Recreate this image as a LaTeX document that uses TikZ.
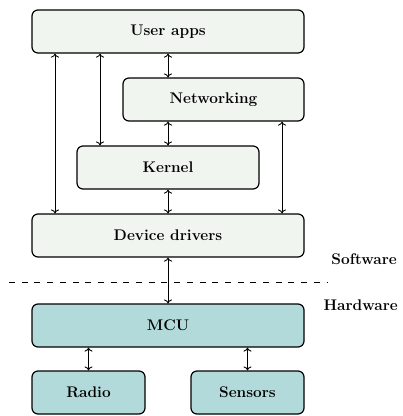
\documentclass[tikz,border=0pt]{standalone}
\usetikzlibrary{arrows.meta}
\definecolor{swfill}{RGB}{240,245,240}
\definecolor{hwfill}{RGB}{179,218,218}
\begin{document}
\begin{tikzpicture}[x=1pt,y=-1pt,
  every node/.style={font=\fontsize{15.4}{18}\selectfont\bfseries},
  layer/.style={draw, line width=1.2pt, rounded corners=6pt, minimum height=43pt, inner sep=0pt},
  sw/.style={layer, fill=swfill},
  hw/.style={layer, fill=hwfill},
  link/.style={line width=0.9pt, {To[length=4pt,width=8pt]}-{To[length=4pt,width=8pt]}}]
  \useasboundingbox (0,0) rectangle (403,416);

  % software stack
  \node[sw, minimum width=272pt] (apps) at (168,31.5) {User apps};
  \node[sw, minimum width=181pt] (net) at (213.5,99.5) {Networking};
  \node[sw, minimum width=182pt] (kern) at (168,167.5) {Kernel};
  \node[sw, minimum width=272pt] (drv) at (168,235.5) {Device drivers};

  % hardware
  \node[hw, minimum width=272pt] (mcu) at (168,325.5) {MCU};
  \node[hw, minimum width=113pt] (radio) at (88.5,392.5) {Radio};
  \node[hw, minimum width=113pt] (sens) at (247.5,392.5) {Sensors};

  % boundary between software and hardware
  \coordinate (cutL) at (9,282);
  \coordinate (cutR) at (327,282);
  \draw[line width=0.8pt, dash pattern=on 6pt off 6.7pt] (cutL) -- (cutR);
  \node[anchor=east, inner sep=0pt] (swlabel) at (397,259) {Software};
  \node[anchor=east, inner sep=0pt] (hwlabel) at (398,305) {Hardware};

  % interfaces
  \draw[link] ([xshift=-113pt]apps.south) -- ([xshift=-113pt]drv.north);
  \draw[link] ([xshift=-68pt]apps.south) -- ([xshift=-68pt]kern.north);
  \draw[link] (apps.south) -- (apps.south |- net.north);
  \draw[link] (net.south -| kern.north) -- (kern.north);
  \draw[link] ([xshift=114pt]drv.north |- net.south) -- ([xshift=114pt]drv.north);
  \draw[link] (kern.south) -- (drv.north);
  \draw[link] (drv.south) -- (mcu.north);
  \draw[link] (mcu.south -| radio.north) -- (radio.north);
  \draw[link] (mcu.south -| sens.north) -- (sens.north);
\end{tikzpicture}
\end{document}
